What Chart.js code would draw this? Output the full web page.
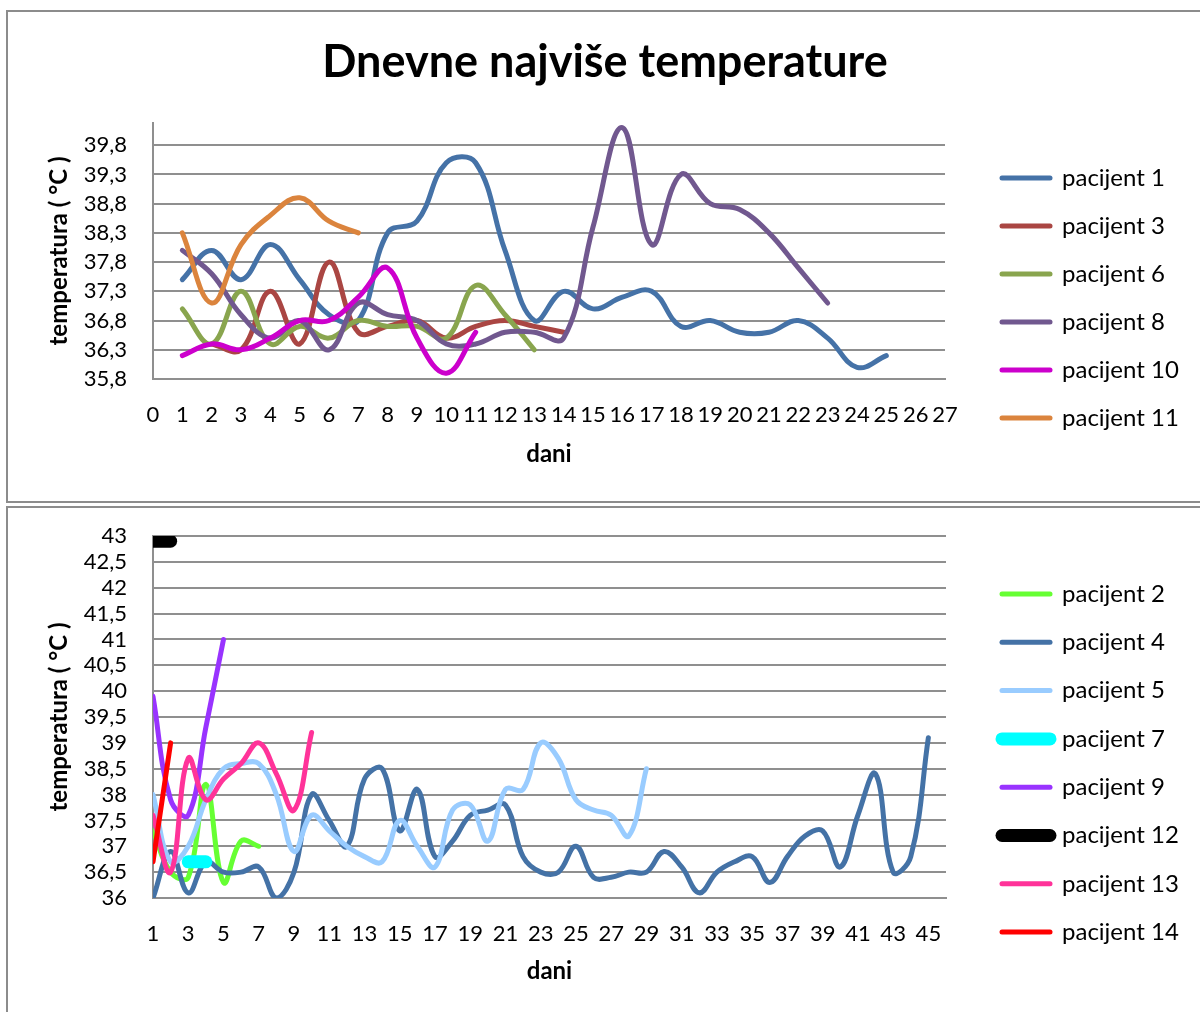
<!DOCTYPE html>
<html>
<head>
<meta charset="utf-8">
<title>Dnevne najviše temperature</title>
<script src="https://cdn.jsdelivr.net/npm/chart.js@4.4.1/dist/chart.umd.min.js"></script>
<style>
  body { margin: 0; background: #fff; width: 1200px; height: 1012px; overflow: hidden; position: relative; }
  .box { position: absolute; left: 6px; width: 1210px; border: 2px solid #8c8c8c; box-sizing: border-box; background: #fff; }
  #box_top { top: 10px; height: 493px; }
  #box_bottom { top: 506px; height: 520px; }
  canvas { display: block; }
</style>
</head>
<body>
<div class="box" id="box_top"><canvas id="top_chart" width="1192" height="489"></canvas></div>
<div class="box" id="box_bottom"><canvas id="bottom_chart" width="1192" height="504"></canvas></div>

<script>
// ---- top chart data (days 1..25) ----
let days_top = [1,2,3,4,5,6,7,8,9,10,11,12,13,14,15,16,17,18,19,20,21,22,23,24,25];
let x_ticks_top = [0,1,2,3,4,5,6,7,8,9,10,11,12,13,14,15,16,17,18,19,20,21,22,23,24,25,26,27];
let y_ticks_top = [35.8, 36.3, 36.8, 37.3, 37.8, 38.3, 38.8, 39.3, 39.8];

let pacijent_1  = [37.5,38.0,37.5,38.1,37.5,36.9,36.8,38.3,38.5,39.5,39.5,38.0,36.8,37.3,37.0,37.2,37.3,36.7,36.8,36.6,36.6,36.8,36.5,36.0,36.2];
let pacijent_3  = [null,36.4,36.3,37.3,36.4,37.8,36.6,36.7,36.8,36.5,36.7,36.8,36.7,36.6];
let pacijent_6  = [37.0,36.4,37.3,36.4,36.7,36.5,36.8,36.7,36.7,36.5,37.4,36.9,36.3];
let pacijent_8  = [38.0,37.6,36.9,36.5,36.8,36.3,37.1,36.9,36.8,36.4,36.4,36.6,36.6,36.5,38.4,40.1,38.1,39.3,38.8,38.7,38.3,37.7,37.1];
let pacijent_10 = [36.2,36.4,36.3,36.5,36.8,36.8,37.2,37.7,36.5,35.9,36.6];
let pacijent_11 = [38.3,37.1,38.1,38.6,38.9,38.5,38.3];

let top_names  = ["pacijent 1", "pacijent 3", "pacijent 6", "pacijent 8", "pacijent 10", "pacijent 11"];
let top_series = [pacijent_1, pacijent_3, pacijent_6, pacijent_8, pacijent_10, pacijent_11];
let top_colors = ["#4572A7", "#AA4643", "#89A54E", "#71588F", "#CC00CC", "#DB843D"];
let top_widths = [5, 5, 5, 5, 5, 5];

// ---- bottom chart data (days 1..45) ----
let days_bottom = [1,2,3,4,5,6,7,8,9,10,11,12,13,14,15,16,17,18,19,20,21,22,23,24,25,26,27,28,29,30,31,32,33,34,35,36,37,38,39,40,41,42,43,44,45];
let x_ticks_bottom = [1,3,5,7,9,11,13,15,17,19,21,23,25,27,29,31,33,35,37,39,41,43,45];
let y_ticks_bottom = [36, 36.5, 37, 37.5, 38, 38.5, 39, 39.5, 40, 40.5, 41, 41.5, 42, 42.5, 43];

let pacijent_2  = [37.3,36.5,36.4,38.2,36.3,37.1,37.0];
let pacijent_4  = [36.0,36.9,36.1,36.7,36.5,36.5,36.6,36.0,36.5,38.0,37.5,37.0,38.3,38.5,37.3,38.1,36.8,37.1,37.6,37.7,
                   37.8,36.8,36.5,36.5,37.0,36.4,36.4,36.5,36.5,36.9,36.6,36.1,36.5,36.7,36.8,36.3,36.8,37.2,37.3,36.6,
                   37.6,38.4,36.5,36.8,39.1];
let pacijent_5  = [38.0,36.7,37.0,37.9,38.5,38.6,38.6,38.0,36.9,37.6,37.3,37.0,36.8,36.7,37.5,37.0,36.6,37.7,37.8,37.1,
                   38.1,38.1,39.0,38.7,37.9,37.7,37.6,37.2,38.5];
let pacijent_7  = [null,null,36.7,36.7];
let pacijent_9  = [39.9,37.9,37.6,39.3,41.0];
let pacijent_12 = [42.9,42.9];
let pacijent_13 = [37.6,36.5,38.7,37.9,38.3,38.6,39.0,38.4,37.7,39.2];
let pacijent_14 = [36.7,39.0];

let bottom_names  = ["pacijent 2", "pacijent 4", "pacijent 5", "pacijent 7", "pacijent 9", "pacijent 12", "pacijent 13", "pacijent 14"];
let bottom_series = [pacijent_2, pacijent_4, pacijent_5, pacijent_7, pacijent_9, pacijent_12, pacijent_13, pacijent_14];
let bottom_colors = ["#66FF33", "#4472A6", "#99CCFF", "#00FFFF", "#9933FF", "#000000", "#FF3399", "#FF0000"];
let bottom_widths = [5, 5, 5, 13, 5, 13, 5, 5];

Chart.defaults.font.family = "Lato, 'Open Sans', sans-serif";
Chart.defaults.color = "#000";
const grid_color = "#8f8f8f";

function build_datasets(series, names, colors, widths, days) {
  return series.map((values, i) => ({
    label: names[i],
    data: values.map((v, j) => ({x: days[j], y: v})),
    borderColor: colors[i],
    backgroundColor: colors[i],
    borderWidth: widths[i],
    borderCapStyle: "round",
    borderJoinStyle: "round",
    tension: 0.4,
    pointRadius: 0,
    pointHoverRadius: 0,
    fill: false,
    clip: 0,
    yAxisID: "y",
    order: -i   // later series drawn on top, like the original
  }));
}

function legend_options(title_pad, padding) {
  return {
    position: "right",
    align: "start",
    maxWidth: 204,
    title: {display: true, text: " ", font: {size: 10, lineHeight: 1}, padding: {top: title_pad, bottom: 0}},
    labels: {
      usePointStyle: true,
      pointStyleWidth: 48,
      padding: padding,
      font: {size: 24},
      generateLabels: chart => chart.data.datasets.map((ds, i) => ({
        text: ds.label,
        fontColor: "#000",
        strokeStyle: ds.borderColor,
        fillStyle: ds.borderColor,
        lineWidth: ds.borderWidth,
        lineCap: "round",
        pointStyle: "line",
        hidden: false,
        datasetIndex: i
      }))
    }
  };
}

function make_scales(o) {
  return {
    x: {
      type: "linear",
      min: o.x_min,
      max: o.x_max,
      afterBuildTicks: s => { s.ticks = o.x_ticks.map(v => ({value: v})); },
      ticks: {autoSkip: false, maxRotation: 0, padding: 23, font: {size: 22}, callback: v => String(v)},
      grid: {display: false, drawTicks: false},
      border: {display: true, color: grid_color, width: 2},
      title: {display: true, text: "dani", font: {size: 24, weight: "bold"}, padding: {top: 0, bottom: o.x_title_pad}},
      afterFit: s => { s.height = o.x_height; }
    },
    y: {
      type: "linear",
      position: "left",
      min: o.y_min,
      max: o.y_max,
      afterBuildTicks: s => { s.ticks = o.y_ticks.map(v => ({value: v})); },
      ticks: {autoSkip: false, padding: 26, font: {size: 22}, callback: o.y_format},
      grid: {color: grid_color, lineWidth: 2, drawTicks: false},
      border: {display: true, color: grid_color, width: 2},
      title: {display: true, text: "temperatura ( °C )", font: {size: 24, weight: "bold"}, padding: {top: 16.6, bottom: 0}},
      afterFit: s => { s.width = 125; s.paddingTop = 0; s.paddingBottom = 0; }
    },
    y_right: {
      position: "right",
      display: true,
      ticks: {display: false},
      grid: {display: false, drawTicks: false},
      border: {display: false},
      afterFit: s => { s.width = o.gap; }
    }
  };
}

new Chart("top_chart", {
  type: "line",
  data: {datasets: build_datasets(top_series, top_names, top_colors, top_widths, days_top)},
  options: {
    responsive: false,
    animation: false,
    layout: {padding: {top: 0, right: 18, bottom: 0, left: 20}},
    plugins: {
      title: {
        display: true,
        text: "Dnevne najviše temperature",
        font: {size: 45, weight: "bold", lineHeight: 1.2},
        padding: {top: 23, bottom: 34}
      },
      legend: legend_options(120, 24),
      tooltip: {enabled: false}
    },
    scales: make_scales({
      x_min: 0, x_max: 27, x_ticks: x_ticks_top, x_height: 122, x_title_pad: 32.6,
      y_min: 35.8, y_max: 40.18, y_ticks: y_ticks_top,
      y_format: v => v.toFixed(1).replace(".", ","),
      gap: 33
    })
  }
});

new Chart("bottom_chart", {
  type: "line",
  data: {datasets: build_datasets(bottom_series, bottom_names, bottom_colors, bottom_widths, days_bottom)},
  options: {
    responsive: false,
    animation: false,
    layout: {padding: {top: 28, right: 18.3, bottom: 0, left: 20}},
    plugins: {
      title: {display: false},
      legend: legend_options(11.7, 24.3),
      tooltip: {enabled: false}
    },
    scales: make_scales({
      x_min: 1, x_max: 46, x_ticks: x_ticks_bottom, x_height: 114, x_title_pad: 26.6,
      y_min: 36, y_max: 43, y_ticks: y_ticks_bottom,
      y_format: v => String(v).replace(".", ","),
      gap: 31.7
    })
  }
});
</script>
</body>
</html>
